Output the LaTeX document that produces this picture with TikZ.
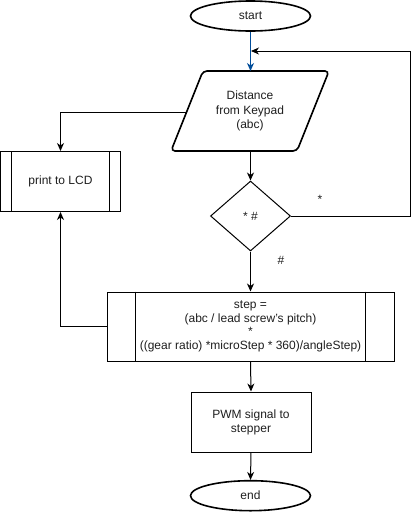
\documentclass[tikz,border=0pt]{standalone}
\usepackage{fontspec}
\setmainfont{Liberation Sans}
\usetikzlibrary{arrows.meta,shapes.geometric}
\definecolor{flowblue}{RGB}{0,76,153}
\definecolor{txt}{RGB}{30,30,30}
\tikzset{
  term/.style={ellipse, draw, line width=1.6pt, minimum width=120pt, minimum height=30pt, inner sep=0pt, text=txt},
  proc/.style={rectangle, draw, line width=1pt, minimum width=120pt, minimum height=60pt, inner sep=0pt, align=center, text=txt},
  decis/.style={diamond, draw, line width=1pt, aspect=1.143, minimum width=80pt, minimum height=70pt, inner sep=0pt, text=txt},
  lbl/.style={inner sep=0pt, text=txt},
  conn/.style={->, line width=1pt}
}
\begin{document}
\begin{tikzpicture}[x=1pt,y=-1pt, line width=1pt,
  >={Stealth[length=8pt,width=7pt,inset=2.5pt]},
  font=\fontsize{12}{14}\selectfont]
\useasboundingbox (0,0) rectangle (419,512);

\node[term] (start) at (250.5,16) {start};

% input parallelogram
\coordinate (pA) at (171,151);
\coordinate (pB) at (203,71);
\coordinate (pC) at (329,71);
\coordinate (pD) at (297,151);
\coordinate (pM) at (234,151);
\draw[line width=1.6pt, rounded corners=4pt] (pM) -- (pA) -- (pB) -- (pC) -- (pD) -- cycle;
\node[lbl, align=center, font=\fontsize{12}{14.5}\selectfont] (dist) at (250,111) {Distance\\from Keypad\\(abc)};
\coordinate (distT) at (250.5,71);
\coordinate (distB) at (250.5,151);
\coordinate (distL) at (186.6,112);

\node[decis] (dec) at (250.5,216) {* \#};

\node[proc] (lcd) at (60.5,181.5) {print to LCD};
\draw (lcd.north west) ++(11.8,0) -- ++(0,60);
\draw (lcd.north east) ++(-11.8,0) -- ++(0,60);

\node[proc, minimum width=287pt, minimum height=69pt, font=\fontsize{12}{13.5}\selectfont] (step) at (250.5,326.5)
  {step =\\(abc / lead screw's pitch)\\*\\((gear ratio) *microStep * 360)/angleStep)};
\draw (step.north west) ++(28.7,0) -- ++(0,69);
\draw (step.north east) ++(-28.7,0) -- ++(0,69);

\node[proc] (pwm) at (251,422) {PWM signal to\\stepper};

\node[term] (end) at (250.5,495.7) {end};

% connectors
\draw[conn, draw=flowblue, fill=flowblue] (start) -- (distT);
\draw[conn] (distB) -- (dec.north);
\coordinate (loopR) at (410,51);
\coordinate (loopEnd) at (251,51);
\draw[conn] (dec.east) -| (loopR) -- (loopEnd);
\draw[conn] (distL) -| (lcd.north);
\draw[conn] (step.west) -| (lcd.south);
\draw[conn] (dec.south) -- (step.north);
\draw[conn] (step.south) -- (pwm.north);
\draw[conn] (pwm.south) -- (end.north);

\node[lbl] (lstar) at (320,199) {*};
\node[lbl] (lhash) at (281,260) {\#};
\end{tikzpicture}
\end{document}
